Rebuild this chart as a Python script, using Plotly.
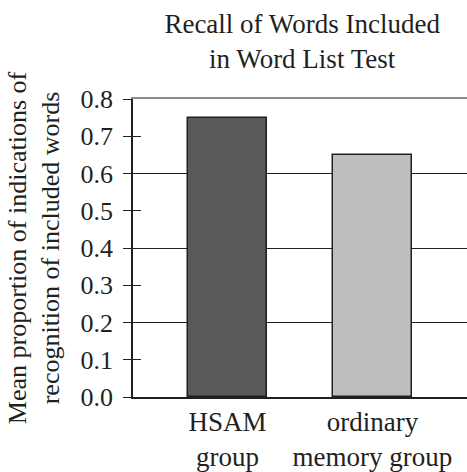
import plotly.graph_objects as go

categories = ["HSAM<br>group", "ordinary<br>memory group"]
values = [0.75, 0.65]
bar_colors = ["#58595b", "#bcbec0"]
y_ticks = [0.0, 0.1, 0.2, 0.3, 0.4, 0.5, 0.6, 0.7, 0.8]
y_ticklabels = ["0.0", "0.1", "0.2", "0.3", "0.4", "0.5", "0.6", "0.7", "0.8"]
grid_vals = [0.2, 0.4, 0.6]
inner_tick_vals = [0.1, 0.3, 0.5, 0.7, 0.8]

INK = "#231f20"
FONT = "Liberation Serif"

fig = go.Figure()
fig.add_trace(go.Bar(
    x=categories, y=values,
    marker=dict(color=bar_colors, line=dict(color=INK, width=1.5)),
    width=0.545, hoverinfo="skip",
))
# helper trace carrying the overlay axes (grid / inner ticks / top line)
fig.add_trace(go.Scatter(
    x=categories, y=values, xaxis="x2", yaxis="y2",
    mode="markers", marker=dict(opacity=0), hoverinfo="skip", showlegend=False,
))

fig.update_layout(
    width=467, height=472,
    margin=dict(l=133, r=0, t=99, b=75),
    paper_bgcolor="white", plot_bgcolor="white",
    showlegend=False,
    font=dict(family=FONT, color=INK, size=26),
    title=dict(
        text="Recall of Words Included<br>in Word List Test",
        x=0.647, xanchor="center", y=0.93, yanchor="top",
        font=dict(family=FONT, size=27, color=INK),
    ),
    xaxis=dict(
        range=[-0.652, 1.652], showgrid=False, automargin=False,
        showline=True, linecolor=INK, linewidth=1.5,
        ticks="", tickfont=dict(size=27, color=INK),
        fixedrange=True,
    ),
    xaxis2=dict(
        overlaying="x", side="top", range=[-0.652, 1.652],
        showline=True, linecolor="#8a8a8a", linewidth=2,
        showticklabels=False, ticks="", showgrid=False, anchor="y2",
        automargin=False,
    ),
    yaxis=dict(
        range=[0, 0.8], tickvals=y_ticks, ticktext=y_ticklabels,
        ticks="outside", ticklen=8, tickwidth=1.3, tickcolor=INK,
        ticklabelstandoff=5,
        showline=True, linecolor=INK, linewidth=1.5,
        showgrid=False, zeroline=False, automargin=False,
        tickfont=dict(size=26, color=INK),
        title=dict(text="Mean proportion of indications of<br>recognition of included words",
                   font=dict(size=26, color=INK), standoff=13),
    ),
    yaxis2=dict(
        overlaying="y", range=[0, 0.8], tickvals=grid_vals,
        ticks="inside", ticklen=8, tickwidth=1.3, tickcolor=INK,
        showticklabels=False, showgrid=True, gridcolor=INK, gridwidth=1.2,
        zeroline=False, showline=False, automargin=False,
        minor=dict(tickvals=inner_tick_vals, ticks="inside", ticklen=8, tickwidth=1.3,
                   tickcolor=INK, showgrid=False),
    ),
    bargap=0,
)

fig.write_html("out.html", config={"displayModeBar": False},
               post_script="document.body.style.margin='0';")
